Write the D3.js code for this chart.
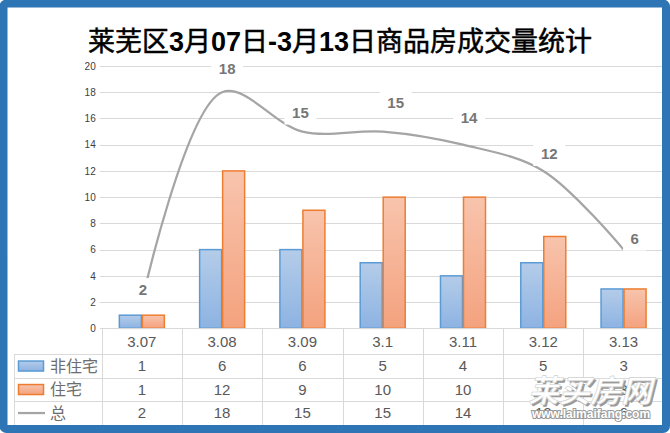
<!DOCTYPE html>
<html>
<head>
<meta charset="utf-8">
<script src="https://cdn.jsdelivr.net/npm/d3@7"></script>
<style>
  html, body { margin: 0; padding: 0; background: #fff; }
  svg { display: block; }
</style>
</head>
<body>
<svg></svg>
<script>
const title = '莱芜区3月07日-3月13日商品房成交量统计'
const categories = ['3.07', '3.08', '3.09', '3.1', '3.11', '3.12', '3.13']
const nonResidential = [1, 6, 6, 5, 4, 5, 3]
const residential = [1, 12, 9, 10, 10, 7, 3]
const total = [2, 18, 15, 15, 14, 12, 6]
const seriesNames = ['非住宅', '住宅', '总']
const yTicks = [0, 2, 4, 6, 8, 10, 12, 14, 16, 18, 20]
// nudges for the line labels, as placed in the original chart
const labelNudge = [[1, -12], [5, -24], [-2, -19], [13, -29], [6, -27], [6, -17], [11, -11]]

const W = 670
const H = 433
const pd = { top: 66, left: 101.7, right: 6.3, bottom: 104.7 }
const rowH = [26, 23.5, 23.5, 23.5]
const legendLeft = 14
const txt = '#595959'
const gridC = '#d9d9d9'
const num = '"Liberation Sans", Arial, sans-serif'
const cjk = '"Noto Sans CJK SC", "Noto Sans", sans-serif'

const svg = d3.select('svg')
  .attr('width', W)
  .attr('height', H)

const defs = svg.append('defs')
function grad(id, top, bottom) {
  const g = defs.append('linearGradient')
    .attr('id', id)
    .attr('x1', 0).attr('y1', 0)
    .attr('x2', 0).attr('y2', 1)
  g.append('stop').attr('offset', '0%').attr('stop-color', top)
  g.append('stop').attr('offset', '100%').attr('stop-color', bottom)
}
grad('gBlue', '#b4cce9', '#8db3e2')
grad('gOrange', '#f8c4ad', '#f4a27e')

const x = d3.scaleBand()
  .domain(categories)
  .range([pd.left, W - pd.right])

const y = d3.scaleLinear()
  .domain([0, 20])
  .range([H - pd.bottom, pd.top])

const sub = d3.scaleBand()
  .domain([0, 1])
  .range([0, 46])

// title
const t = svg.append('text')
  .attr('x', 340)
  .attr('y', 51)
  .attr('text-anchor', 'middle')
  .attr('font-size', 27)
  .attr('fill', '#000')
title.split(/([0-9\-]+)/).filter(s => s.length).forEach(s => {
  const isNum = /^[0-9\-]+$/.test(s)
  t.append('tspan')
    .attr('font-family', isNum ? num : cjk)
    .attr('font-weight', isNum ? 'bold' : 'normal')
    .attr('stroke', isNum ? 'none' : '#000')
    .attr('stroke-width', isNum ? 0 : 0.5)
    .text(s)
})

// gridlines
svg.append('g')
  .selectAll('line')
  .data(yTicks)
  .enter()
  .append('line')
  .attr('x1', 100)
  .attr('x2', W - pd.right)
  .attr('y1', d => Math.round(y(d)) + 0.5)
  .attr('y2', d => Math.round(y(d)) + 0.5)
  .attr('stroke', gridC)
  .attr('stroke-width', 1)

// y axis labels
const ya = svg.append('g')
  .attr('transform', `translate(${pd.left}, 0)`)
  .call(d3.axisLeft(y).tickValues(yTicks).tickSize(0).tickPadding(6))
ya.select('.domain').remove()
ya.selectAll('text')
  .attr('font-family', num)
  .attr('font-size', 10)
  .attr('fill', '#404040')

// bars
const series = [
  { values: nonResidential, fill: 'url(#gBlue)', stroke: '#5b9bd5' },
  { values: residential, fill: 'url(#gOrange)', stroke: '#ed7d31' }
]
series.forEach((s, si) => {
  svg.append('g')
    .selectAll('rect')
    .data(s.values)
    .enter()
    .append('rect')
    .attr('x', (d, i) => x(categories[i]) + (x.bandwidth() - 46) / 2 + sub(si) + 0.5)
    .attr('y', d => y(d))
    .attr('width', sub.bandwidth() - 1)
    .attr('height', d => y(0) - y(d))
    .attr('fill', s.fill)
    .attr('stroke', s.stroke)
    .attr('stroke-width', 1.5)
})

// total line
const pts = total.map((v, i) => [x(categories[i]) + x.bandwidth() / 2, y(v)])
svg.append('path')
  .datum(pts)
  .attr('d', d3.line().curve(d3.curveCatmullRom.alpha(0.5)))
  .attr('fill', 'none')
  .attr('stroke', '#a5a5a5')
  .attr('stroke-width', 2.25)

// line labels with white boxes
const lab = svg.append('g')
  .selectAll('g')
  .data(total)
  .enter()
  .append('g')
  .attr('transform', (d, i) => `translate(${pts[i][0] + labelNudge[i][0]}, ${pts[i][1] + labelNudge[i][1]})`)
lab.append('rect')
  .attr('x', d => -(String(d).length * 4.5 + 7))
  .attr('y', -12)
  .attr('width', d => String(d).length * 9 + 14)
  .attr('height', 24)
  .attr('fill', '#fff')
lab.append('text')
  .attr('text-anchor', 'middle')
  .attr('dy', '0.36em')
  .attr('font-family', num)
  .attr('font-weight', 'bold')
  .attr('font-size', 15)
  .attr('fill', '#767676')
  .text(d => d)

// data table
const tTop = y(0)
const rows = rowH.reduce((a, h) => { a.push(a[a.length - 1] + h); return a }, [tTop])
const tb = svg.append('g')
// horizontal lines
tb.selectAll('line.h')
  .data(rows.slice(0, 4))
  .enter()
  .append('line')
  .attr('class', 'h')
  .attr('x1', (d, i) => i === 0 ? pd.left : legendLeft)
  .attr('x2', W - pd.right)
  .attr('y1', d => Math.round(d) + 0.5)
  .attr('y2', d => Math.round(d) + 0.5)
  .attr('stroke', gridC)
// vertical lines
tb.selectAll('line.v')
  .data(categories.concat(['end']))
  .enter()
  .append('line')
  .attr('class', 'v')
  .attr('x1', d => Math.round(d === 'end' ? W - pd.right : x(d)) + 0.5)
  .attr('x2', d => Math.round(d === 'end' ? W - pd.right : x(d)) + 0.5)
  .attr('y1', tTop)
  .attr('y2', rows[4])
  .attr('stroke', gridC)
tb.append('line')
  .attr('x1', legendLeft + 0.5)
  .attr('x2', legendLeft + 0.5)
  .attr('y1', rows[1])
  .attr('y2', rows[4])
  .attr('stroke', gridC)

// header
tb.selectAll('text.cat')
  .data(categories)
  .enter()
  .append('text')
  .attr('class', 'cat')
  .attr('x', d => x(d) + x.bandwidth() / 2)
  .attr('y', (rows[0] + rows[1]) / 2)
  .attr('dy', '0.36em')
  .attr('text-anchor', 'middle')
  .attr('font-family', num)
  .attr('font-size', 15)
  .attr('fill', txt)
  .text(d => d)

// values
const tableRows = [nonResidential, residential, total]
tableRows.forEach((vals, r) => {
  const cy = (rows[r + 1] + rows[r + 2]) / 2
  tb.append('g')
    .selectAll('text')
    .data(vals)
    .enter()
    .append('text')
    .attr('x', (d, i) => x(categories[i]) + x.bandwidth() / 2)
    .attr('y', cy)
    .attr('dy', '0.36em')
    .attr('text-anchor', 'middle')
    .attr('font-family', num)
    .attr('font-size', 15)
    .attr('fill', txt)
    .text(d => d)

  // legend key
  if (r < 2) {
    tb.append('rect')
      .attr('x', 18.5)
      .attr('y', cy - 5)
      .attr('width', 25)
      .attr('height', 10)
      .attr('fill', series[r].fill)
      .attr('stroke', series[r].stroke)
      .attr('stroke-width', 1.5)
  } else {
    tb.append('line')
      .attr('x1', 18)
      .attr('x2', 45)
      .attr('y1', cy)
      .attr('y2', cy)
      .attr('stroke', '#a5a5a5')
      .attr('stroke-width', 2.25)
  }
  tb.append('text')
    .attr('x', 50)
    .attr('y', cy)
    .attr('dy', '0.36em')
    .attr('font-family', cjk)
    .attr('font-size', 16)
    .attr('fill', '#6d6d6d')
    .text(seriesNames[r])
})

// watermark
const wm = svg.append('g').attr('font-family', cjk).attr('font-weight', 'bold')
wm.append('text')
  .attr('x', 592).attr('y', 404)
  .attr('text-anchor', 'middle')
  .attr('font-size', 31)
  .attr('font-style', 'italic')
  .attr('fill', '#9a9a9a')
  .text('莱买房网')
wm.append('text')
  .attr('x', 590).attr('y', 402)
  .attr('text-anchor', 'middle')
  .attr('font-size', 31)
  .attr('font-style', 'italic')
  .attr('fill', '#fff')
  .attr('stroke', '#d0d0d0')
  .attr('stroke-width', 0.6)
  .text('莱买房网')
wm.append('text')
  .attr('x', 591).attr('y', 418)
  .attr('text-anchor', 'middle')
  .attr('font-family', num)
  .attr('font-size', 12)
  .attr('fill', '#fff')
  .attr('stroke', '#9a9a9a')
  .attr('stroke-width', 2)
  .attr('paint-order', 'stroke')
  .text('www.laimaifang.com')

// outer frame
svg.append('rect')
  .attr('x', 3.5)
  .attr('y', 3.5)
  .attr('width', 662.5)
  .attr('height', 425.5)
  .attr('rx', 3)
  .attr('fill', 'none')
  .attr('stroke', '#2e75b6')
  .attr('stroke-width', 8)
</script>
</body>
</html>
